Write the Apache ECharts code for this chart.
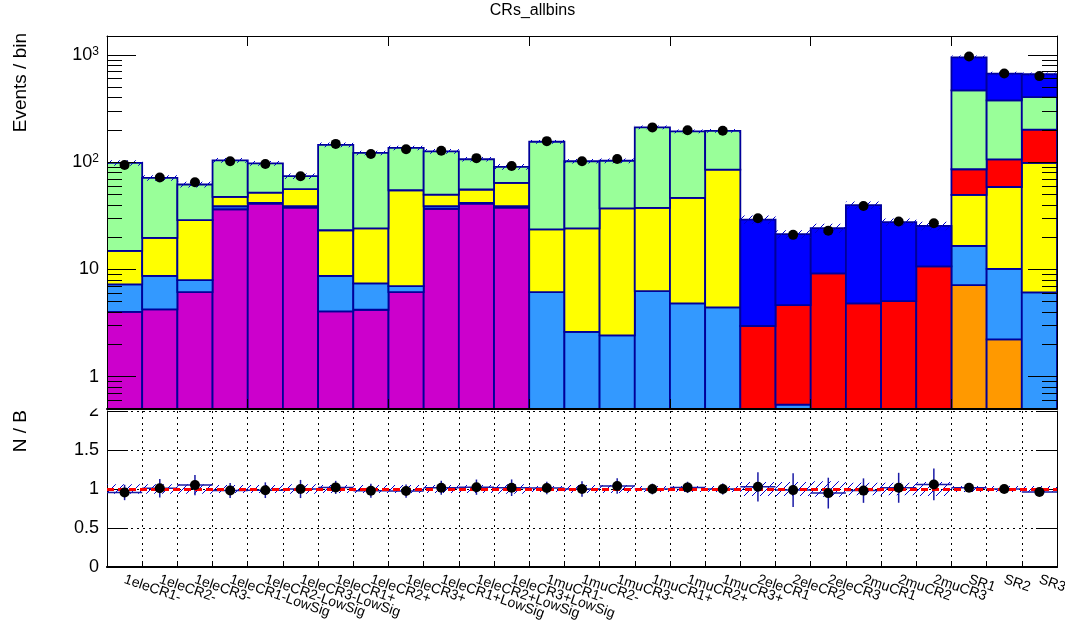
<!DOCTYPE html>
<html>
<head>
<meta charset="utf-8">
<script src="https://cdn.jsdelivr.net/npm/echarts@6/dist/echarts.min.js"></script>
<style>
  html, body { margin: 0; padding: 0; background: #ffffff; }
  #chart { width: 1065px; height: 630px; }
</style>
</head>
<body>
<div id="chart"></div>
<script>
// Bin labels
const categories = [
  '1eleCR1-', '1eleCR2-', '1eleCR3-', '1eleCR1-LowSig', '1eleCR2-LowSig', '1eleCR3-LowSig',
  '1eleCR1+', '1eleCR2+', '1eleCR3+', '1eleCR1+LowSig', '1eleCR2+LowSig', '1eleCR3+LowSig',
  '1muCR1-', '1muCR2-', '1muCR3-', '1muCR1+', '1muCR2+', '1muCR3+',
  '2eleCR1', '2eleCR2', '2eleCR3', '2muCR1', '2muCR2', '2muCR3',
  'SR1', 'SR2', 'SR3'
];

// Background components, listed from the bottom of the stack upwards
const orangeBkg  = [0, 0, 0, 0, 0, 0, 0, 0, 0, 0, 0, 0, 0, 0, 0, 0, 0, 0, 0, 0, 0, 0, 0, 0, 7.14, 2.23, 0];
const magentaBkg = [4.03, 4.24, 6.15, 36.4, 41.1, 37.8, 4.06, 4.21, 6.15, 36.7, 41.1, 37.8, 0, 0, 0, 0, 0, 0, 0, 0, 0, 0, 0, 0, 0, 0, 0];
const azureBkg   = [3.22, 4.46, 1.8, 2.4, 0.5, 1.0, 4.64, 3.2, 0.85, 2.1, 0.5, 1.0, 6.15, 2.62, 2.43, 6.28, 4.82, 4.43, 0, 0.55, 0, 0, 0, 0, 9.46, 7.87, 6.1];
const yellowBkg  = [7.65, 11.0, 20.85, 8.6, 10.5, 17.2, 14.5, 16.7, 47.7, 11.1, 14.0, 25.2, 17.45, 21.5, 34.6, 31.2, 41.6, 80.9, 0, 0, 0, 0, 0, 0, 32.9, 48.6, 92.3];
const redBkg     = [0, 0, 0, 0, 0, 0, 0, 0, 0, 0, 0, 0, 0, 0, 0, 0, 0, 0, 2.97, 4.1, 9.18, 4.82, 5.07, 10.7, 36.4, 47.3, 102.6];
const greenBkg   = [83.5, 51.6, 33.1, 56.6, 45.4, 18.0, 121.8, 97.7, 80.9, 76.1, 50.9, 26.5, 131.4, 77.9, 66, 173.5, 147.6, 110.7, 0, 0, 0, 0, 0, 0, 381, 271, 203];
const blueBkg    = [0, 0, 0, 0, 0, 0, 0, 0, 0, 0, 0, 0, 0, 0, 0, 0, 0, 0, 26.2, 16.65, 15.1, 35.0, 22.5, 14.8, 483, 293, 256];

// Relative uncertainty of the total background per bin
const bkgRelUnc = [0.06, 0.06, 0.06, 0.05, 0.05, 0.06, 0.05, 0.05, 0.05, 0.05, 0.05, 0.06, 0.04, 0.05, 0.05, 0.04, 0.04, 0.04, 0.09, 0.09, 0.1, 0.08, 0.08, 0.09, 0.04, 0.04, 0.04];

// Observed events per bin
const observed = [94, 72, 65, 102, 96, 74, 148, 119, 132, 128, 109, 92, 157, 102, 107, 211, 198, 196, 30, 21, 23, 39, 28, 27, 966, 670, 634];

// Axis tick values
const logMajorTicks = [1, 10, 100, 1000];
const logMinorTicks = [0.6, 0.7, 0.8, 0.9, 2, 3, 4, 5, 6, 7, 8, 9, 20, 30, 40, 50, 60, 70, 80, 90, 200, 300, 400, 500, 600, 700, 800, 900];
const ratioTicks = ['0', '0.5', '1', '1.5', '2'];

const FONT = '"Liberation Sans", Arial, Helvetica, sans-serif';
const Y_MIN = 0.5, Y_MAX = 1500;
const OUTLINE = '#000099';
const HATCH = '#0000cc';

const layers = [
  { name: 'orange', values: orangeBkg, color: '#ff9900' },
  { name: 'magenta', values: magentaBkg, color: '#cc00cc' },
  { name: 'azure', values: azureBkg, color: '#3399ff' },
  { name: 'yellow', values: yellowBkg, color: '#ffff00' },
  { name: 'red', values: redBkg, color: '#ff0000' },
  { name: 'green', values: greenBkg, color: '#99ff99' },
  { name: 'blue', values: blueBkg, color: '#0000ff' }
];

const totals = categories.map((_, i) => layers.reduce((s, l) => s + l.values[i], 0));

// Diagonal hatch tile for the uncertainty bands
function makeHatch() {
  const c = document.createElement('canvas');
  c.width = 8; c.height = 8;
  const g = c.getContext('2d');
  g.strokeStyle = HATCH;
  g.lineWidth = 1;
  g.beginPath();
  g.moveTo(0, 8); g.lineTo(8, 0);
  g.moveTo(-1, 1); g.lineTo(1, -1);
  g.moveTo(7, 9); g.lineTo(9, 7);
  g.stroke();
  return c;
}
const hatchFill = { image: makeHatch(), repeat: 'repeat' };

function segmentRenderer(color) {
  return function (params, api) {
    const i = api.value(0);
    const lo = Math.max(api.value(1), Y_MIN);
    const hi = api.value(2);
    if (hi <= Y_MIN) return null;
    const p0 = api.coord([i, lo]);
    const p1 = api.coord([i, hi]);
    const w = api.size([1, 0], [i, 1])[0];
    return {
      type: 'rect',
      shape: { x: p0[0] - w / 2, y: p1[1], width: w, height: p0[1] - p1[1] },
      style: { fill: color, stroke: OUTLINE, lineWidth: 1.8 }
    };
  };
}

const stackSeries = layers.map((layer, k) => {
  const data = [];
  categories.forEach((_, i) => {
    let low = 0;
    for (let j = 0; j < k; j++) low += layers[j].values[i];
    if (layer.values[i] > 0) data.push([i, low, low + layer.values[i]]);
  });
  return {
    type: 'custom', name: layer.name, xAxisIndex: 0, yAxisIndex: 0,
    data: data, encode: { x: 0, y: 2 }, z: 2, clip: true,
    renderItem: segmentRenderer(layer.color)
  };
});

// Uncertainty band on top of the stack
const topBand = {
  type: 'custom', xAxisIndex: 0, yAxisIndex: 0, z: 3, clip: true,
  data: categories.map((_, i) => [i, totals[i], bkgRelUnc[i]]),
  encode: { x: 0, y: 1 },
  renderItem: function (params, api) {
    const i = api.value(0), t = api.value(1), u = api.value(2);
    const a = api.coord([i, t * (1 + u)]);
    const b = api.coord([i, t * (1 - u)]);
    const w = api.size([1, 0], [i, 1])[0];
    return {
      type: 'rect',
      shape: { x: a[0] - w / 2, y: a[1], width: w, height: b[1] - a[1] },
      style: { fill: hatchFill, stroke: null }
    };
  }
};

const topData = {
  type: 'scatter', xAxisIndex: 0, yAxisIndex: 0, z: 4,
  symbol: 'circle', symbolSize: 10,
  itemStyle: { color: '#000000', opacity: 1 },
  data: categories.map((_, i) => [i, observed[i]])
};

// Ratio panel
const ratioBand = {
  type: 'custom', xAxisIndex: 2, yAxisIndex: 4, z: 2, clip: true,
  data: categories.map((_, i) => [i, bkgRelUnc[i]]),
  encode: { x: 0, y: 1 },
  renderItem: function (params, api) {
    const i = api.value(0), u = api.value(1);
    const a = api.coord([i, 1 + u]);
    const b = api.coord([i, 1 - u]);
    const w = api.size([1, 0], [i, 1])[0];
    return {
      type: 'rect',
      shape: { x: a[0] - w / 2, y: a[1], width: w, height: b[1] - a[1] },
      style: { fill: hatchFill, stroke: null }
    };
  }
};

const ratioErrors = {
  type: 'custom', xAxisIndex: 2, yAxisIndex: 4, z: 3, clip: true,
  data: categories.map((_, i) => [i, observed[i] / totals[i], Math.sqrt(observed[i]) / totals[i]]),
  encode: { x: 0, y: 1 },
  renderItem: function (params, api) {
    const i = api.value(0), r = api.value(1), e = api.value(2);
    const c = api.coord([i, r]);
    const up = api.coord([i, r + e]);
    const dn = api.coord([i, r - e]);
    const w = api.size([1, 0], [i, 1])[0];
    const st = { stroke: '#1a1aa6', lineWidth: 1.5 };
    return {
      type: 'group',
      children: [
        { type: 'line', shape: { x1: c[0] - w / 2, y1: c[1], x2: c[0] + w / 2, y2: c[1] }, style: st },
        { type: 'line', shape: { x1: c[0], y1: up[1], x2: c[0], y2: dn[1] }, style: st }
      ]
    };
  }
};

const ratioPoints = {
  type: 'scatter', xAxisIndex: 2, yAxisIndex: 4, z: 5,
  symbol: 'circle', symbolSize: 10,
  itemStyle: { color: '#000000', opacity: 1 },
  data: categories.map((_, i) => [i, observed[i] / totals[i]]),
  markLine: {
    silent: true, symbol: 'none', z: 4,
    label: { show: false },
    lineStyle: { color: '#ff0000', width: 3, type: [7, 4], opacity: 1 },
    data: [{ yAxis: 1 }]
  }
};

const tickStyle = { color: '#000000', width: 1 };
const dotted = { color: '#000000', width: 1, type: [2, 4] };

function logAxis(position, ticks, len, withLine, withLabels) {
  return {
    type: 'log', gridIndex: 0, position: position, logBase: 10,
    min: Y_MIN, max: Y_MAX, z: 10,
    axisLine: { show: withLine, lineStyle: tickStyle },
    axisTick: { show: true, inside: true, length: len, customValues: ticks, lineStyle: tickStyle },
    axisLabel: withLabels ? {
      show: true, customValues: ticks, margin: 8, color: '#000',
      fontFamily: FONT, fontSize: 18,
      formatter: function (v) {
        if (v >= 999) return '{b|10}{s|3}';
        if (v >= 99) return '{b|10}{s|2}';
        return '{b|' + Math.round(v) + '}';
      },
      rich: {
        b: { fontFamily: FONT, fontSize: 18, color: '#000' },
        s: { fontFamily: FONT, fontSize: 12, color: '#000', verticalAlign: 'top' }
      }
    } : { show: false },
    splitLine: { show: false }, minorTick: { show: false }
  };
}

const option = {
  animation: false,
  backgroundColor: '#ffffff',
  title: {
    text: 'CRs_allbins', left: 'center', top: -2,
    textStyle: { fontFamily: FONT, fontSize: 16, fontWeight: 'normal', color: '#000' }
  },
  grid: [
    { left: 107, right: 8, top: 36, height: 373, outerBoundsMode: 'none' },
    { left: 107, right: 8, top: 411, height: 156, outerBoundsMode: 'none' }
  ],
  xAxis: [
    { type: 'category', gridIndex: 0, position: 'bottom', data: categories, z: 10,
      axisLine: { show: true, lineStyle: { color: '#000', width: 2 } },
      axisTick: { show: true, inside: true, length: 10, lineStyle: tickStyle },
      axisLabel: { show: false }, splitLine: { show: false } },
    { type: 'category', gridIndex: 0, position: 'top', data: categories, z: 10,
      axisLine: { show: true, lineStyle: tickStyle },
      axisTick: { show: true, inside: true, length: 10, lineStyle: tickStyle },
      axisLabel: { show: false }, splitLine: { show: false } },
    { type: 'category', gridIndex: 1, position: 'bottom', data: categories,
      axisLine: { show: true, lineStyle: { color: '#000', width: 1.5 } },
      axisTick: { show: true, inside: true, length: 4, lineStyle: tickStyle },
      axisLabel: { show: true, interval: 0, rotate: -19, margin: 12, fontFamily: FONT, fontSize: 14, color: '#000' },
      splitLine: { show: true, lineStyle: dotted } },
    { type: 'category', gridIndex: 1, position: 'top', data: categories,
      axisLine: { show: true, lineStyle: { color: '#000', width: 2 } },
      axisTick: { show: false }, axisLabel: { show: false }, splitLine: { show: false } }
  ],
  yAxis: [
    logAxis('left', logMajorTicks, 29, true, true),
    logAxis('left', logMinorTicks, 15, false, false),
    logAxis('right', logMajorTicks, 29, true, false),
    logAxis('right', logMinorTicks, 15, false, false),
    { type: 'value', gridIndex: 1, position: 'left', min: 0, max: 2, interval: 0.5,
      axisLine: { show: true, lineStyle: tickStyle },
      axisTick: { show: true, inside: true, length: 21, lineStyle: tickStyle },
      axisLabel: { show: true, margin: 8, fontFamily: FONT, fontSize: 18, color: '#000',
        formatter: function (v) { return ratioTicks[Math.round(v / 0.5)]; } },
      splitLine: { show: true, lineStyle: dotted } },
    { type: 'value', gridIndex: 1, position: 'right', min: 0, max: 2, interval: 0.5,
      axisLine: { show: true, lineStyle: tickStyle },
      axisTick: { show: true, inside: true, length: 21, lineStyle: tickStyle },
      axisLabel: { show: false }, splitLine: { show: false } }
  ],
  graphic: [
    { type: 'rect', z: 100, shape: { x: 70, y: 396, width: 35, height: 12.5 }, style: { fill: '#ffffff' } },
    { type: 'text', z: 100, x: 21, y: 33, rotation: Math.PI / 2,
      style: { text: 'Events / bin', fontFamily: FONT, fontSize: 19, fill: '#000', align: 'right', verticalAlign: 'middle' } },
    { type: 'text', z: 100, x: 21, y: 410, rotation: Math.PI / 2,
      style: { text: 'N / B', fontFamily: FONT, fontSize: 19, fill: '#000', align: 'right', verticalAlign: 'middle' } }
  ],
  series: stackSeries.concat([topBand, topData, ratioBand, ratioErrors, ratioPoints])
};

const chart = echarts.init(document.getElementById('chart'), null, { renderer: 'canvas' });
chart.setOption(option);
</script>
</body>
</html>
